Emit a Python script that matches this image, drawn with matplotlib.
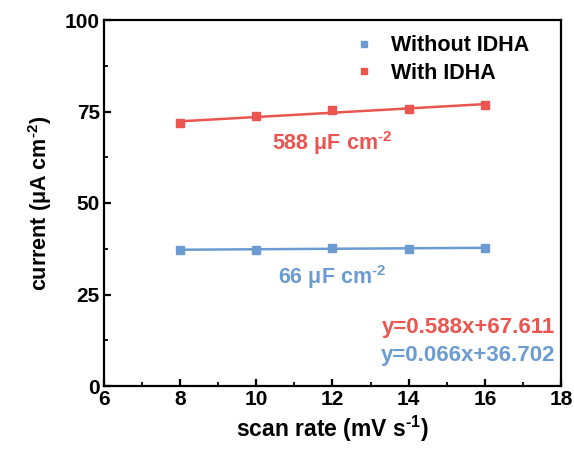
import numpy as np
import matplotlib.pyplot as plt

plt.rcParams['font.family'] = ['Liberation Sans', 'DejaVu Sans']
plt.rcParams['font.weight'] = 'bold'
plt.rcParams['mathtext.fontset'] = 'custom'
plt.rcParams['mathtext.rm'] = 'Liberation Sans:bold'
plt.rcParams['mathtext.bf'] = 'Liberation Sans:bold'
plt.rcParams['mathtext.it'] = 'Liberation Sans:bold'
plt.rcParams['mathtext.default'] = 'rm'

scan_rate = [8, 10, 12, 14, 16]
without_idha = [37.2, 37.2, 37.8, 37.5, 37.6]
with_idha = [71.9, 73.7, 75.5, 75.6, 76.9]

fit_without = (0.066, 36.702)
fit_with = (0.588, 67.611)

blue = '#6b9bd1'
red = '#ea5550'

fig = plt.figure(figsize=(5.74, 4.57), dpi=100)
ax = fig.add_axes([104/574, 1-386/457, (561-104)/574, (386-20)/457])

xf = np.array([scan_rate[0], scan_rate[-1]])
ax.plot(xf, fit_without[0]*xf + fit_without[1], color=blue, lw=1.8)
ax.plot(xf, fit_with[0]*xf + fit_with[1], color=red, lw=1.8)
ax.plot(scan_rate, without_idha, 's', color=blue, ms=5.6, label='Without IDHA')
ax.plot(scan_rate, with_idha, 's', color=red, ms=5.6, label='With IDHA')

ax.set_xlim(6, 18)
ax.set_ylim(0, 100)
ax.set_xticks([6, 8, 10, 12, 14, 16, 18])
ax.set_yticks([0, 25, 50, 75, 100])
ax.set_xticks(np.arange(7, 18, 2), minor=True)
ax.set_yticks(np.arange(12.5, 100, 25), minor=True)
ax.tick_params(which='both', direction='in', top=False, right=False)
ax.tick_params(which='major', length=5, width=1.6, labelsize=15, pad=3)
ax.tick_params(which='minor', length=3, width=1.3)
for s in ax.spines.values():
    s.set_linewidth(1.6)

ax.set_xlabel(r'scan rate (mV s$^{\text{-1}}$)', fontsize=16.5, fontweight='bold', labelpad=3)
ax.set_ylabel(r'current (μA cm$^{\text{-2}}$)', fontsize=15.5, fontweight='bold', labelpad=8)

ax.legend(loc='upper right', bbox_to_anchor=(0.94, 0.97), frameon=False, fontsize=15.5,
          handletextpad=0.7, borderaxespad=0, borderpad=0.2, markerscale=0.8,
          handlelength=1.1, labelspacing=0.3)

ax.text(12.0, 66.3, r'588 μF cm$^{\text{-2}}$', color=red, fontsize=15.5,
        ha='center', va='center', fontweight='bold')
ax.text(12.0, 29.8, r'66 μF cm$^{\text{-2}}$', color=blue, fontsize=15.5,
        ha='center', va='center', fontweight='bold')
ax.text(17.85, 16.0, 'y=0.588x+67.611', color=red, fontsize=16,
        ha='right', va='center', fontweight='bold')
ax.text(17.85, 8.3, 'y=0.066x+36.702', color=blue, fontsize=16,
        ha='right', va='center', fontweight='bold')

fig.savefig('out.png', dpi=100)
